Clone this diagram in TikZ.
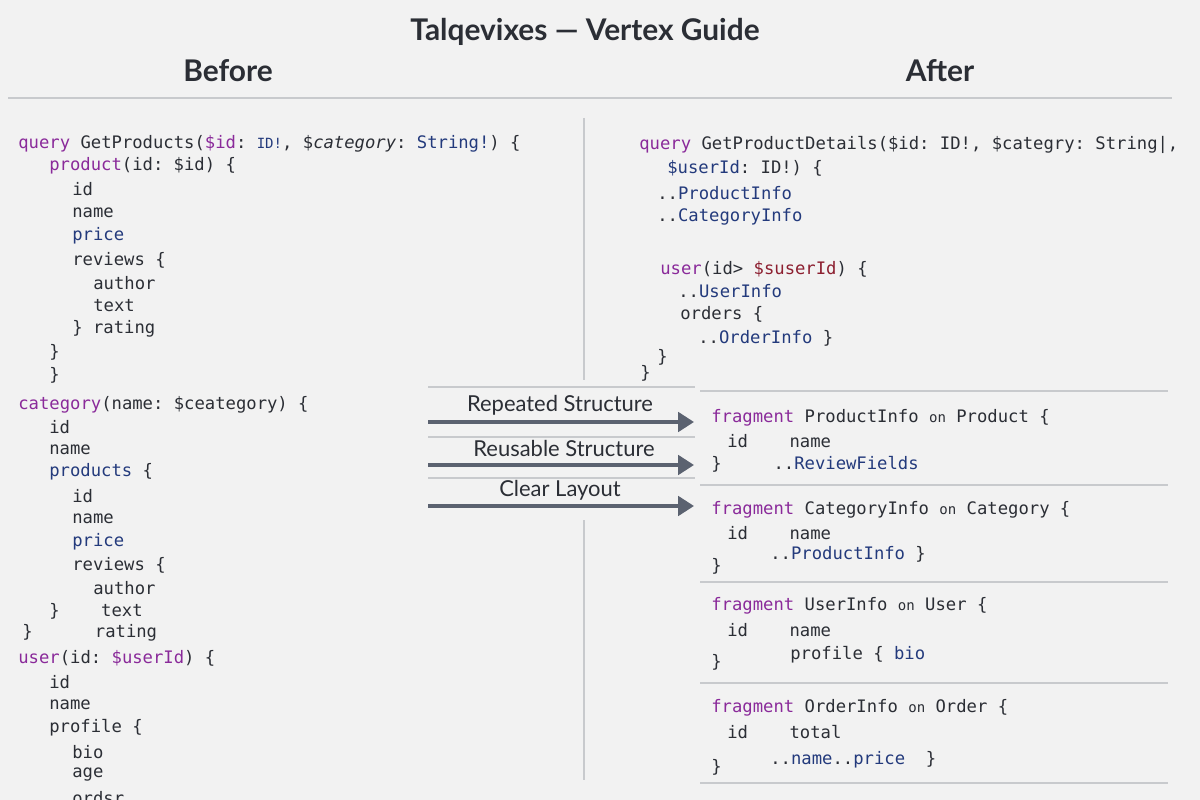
\documentclass[tikz,border=0pt]{standalone}
\usepackage{fontspec}
\setmainfont{Lato}
\setmonofont{DejaVu Sans Mono}
\usetikzlibrary{arrows.meta,positioning}
\definecolor{bg}{HTML}{F2F2F2}
\definecolor{kwcol}{HTML}{8A2A9A}
\definecolor{fncol}{HTML}{233A7C}
\definecolor{vrcol}{HTML}{8C1F30}
\definecolor{txtcol}{HTML}{2B2E35}
\definecolor{rulecol}{HTML}{C8CACD}
\definecolor{arrcol}{HTML}{5B6270}
\newcommand\kw[1]{\textcolor{kwcol}{#1}}
\newcommand\fn[1]{\textcolor{fncol}{#1}}
\newcommand\vr[1]{\textcolor{vrcol}{#1}}
\newcommand\sm[1]{{\fontsize{8}{8}\selectfont #1}}
\tikzset
{
  code/.style    = {anchor=west, inner sep=0pt, text=txtcol, font=\ttfamily\fontsize{9.8}{11}\selectfont},
  heading/.style = {text=txtcol, font=\fontsize{17}{20}\selectfont\bfseries},
  divider/.style = {draw=rulecol, line width=0.8pt},
  flow/.style    = {-{Triangle[length=9pt,width=11pt]}, draw=arrcol, line width=2pt},
  flowlabel/.style = {text=txtcol, font=\fontsize{12.5}{14}\selectfont}
}
\newcommand\cl[4]{\node[code] (#1) at (#2,#3) {#4};}
\begin{document}
\begin{tikzpicture}[x=0.02cm,y=-0.02cm]
  \fill[bg] (0,0) rectangle (1200,800);
  \useasboundingbox (0,0) rectangle (1200,800);
  % titles
  \node[text=txtcol, font=\fontsize{17}{20}\selectfont\bfseries] (title) at (585,32) {Talqevixes — Vertex Guide};
  \node[heading] (before) at (228,71) {Before};
  \node[heading] (after) at (940,71) {After};
  % rules
  \coordinate (tl) at (8,98);     \coordinate (tr) at (1172,98);
  \coordinate (vt) at (584,118);  \coordinate (vb) at (584,380);
  \coordinate (wt) at (584,520);  \coordinate (wb) at (584,780);
  \draw[divider] (tl) -- (tr);
  \draw[divider] (vt) -- (vb);
  \draw[divider] (wt) -- (wb);
  \foreach \y in {391,485,582,683,783}
    \draw[divider] (700,\y) -- (1168,\y);
  \foreach \y in {387,437,478}
    \draw[divider] (428,\y) -- (695,\y);
  % before
  \cl{b1}{18}{144}{\kw{query} GetProducts(\kw{\$id}: \fn{\sm{ID!}}, \$\textit{category}: \fn{String!}) \{}
  \cl{b2}{49}{166}{\kw{product}(id: \$id) \{}
  \cl{b3}{72}{189}{id}
  \cl{b4}{72}{213}{name}
  \cl{b5}{72}{236}{\fn{price}}
  \cl{b6}{72}{260}{reviews \{}
  \cl{b7}{93}{283}{author}
  \cl{b8}{93}{306}{text}
  \cl{b9}{72}{329}{\} rating}
  \cl{b10}{49}{352}{\}}
  \cl{b11}{49}{375}{\}}
  \cl{b12}{18}{405}{\kw{category}(name: \$ceategory) \{}
  \cl{b13}{49}{427}{id}
  \cl{b14}{49}{450}{name}
  \cl{b15}{49}{472}{\fn{products} \{}
  \cl{b16}{72}{496}{id}
  \cl{b17}{72}{519}{name}
  \cl{b18}{72}{542}{\fn{price}}
  \cl{b19}{72}{565}{reviews \{}
  \cl{b20}{93}{588}{author}
  \cl{b21}{49}{611}{\}\ \ \ \ text}
  \cl{b22}{22}{633}{\}\ \ \ \ \ \ rating}
  \cl{b23}{18}{658}{\kw{user}(id: \kw{\$userId}) \{}
  \cl{b24}{49}{682}{id}
  \cl{b25}{49}{705}{name}
  \cl{b26}{49}{728}{profile \{}
  \cl{b27}{72}{752}{bio}
  \cl{b28}{72}{775}{age}
  \cl{b29}{72}{798}{ordsr}
  % after
  \cl{a1}{639}{145}{\kw{query} GetProductDetails(\$id: ID!, \$categry: String|,}
  \cl{a2}{667}{168}{\fn{\$userId}: ID!) \{}
  \cl{a3}{657}{193}{..\fn{ProductInfo}}
  \cl{a4}{657}{217}{..\fn{CategoryInfo}}
  \cl{a5}{660}{269}{\kw{user}(id> \vr{\$suserId}) \{}
  \cl{a6}{678}{291}{..\fn{UserInfo}}
  \cl{a7}{680}{314}{orders \{}
  \cl{a8}{698}{338}{..\fn{OrderInfo} \}}
  \cl{a9}{657}{357}{\}}
  \cl{a10}{640}{373}{\}}
  % fragments
  \cl{f1}{711}{418}{\kw{fragment} ProductInfo \sm{on} Product \{}
  \cl{f2}{727}{441}{id\ \ \ \ name}
  \cl{f3}{711}{464}{\}\ \ \ \ \ ..\fn{ReviewFields}}
  \cl{f4}{711}{510}{\kw{fragment} CategoryInfo \sm{on} Category \{}
  \cl{f5}{727}{533}{id\ \ \ \ name}
  \cl{f6}{770}{554}{..\fn{ProductInfo} \}}
  \cl{f7}{711}{566}{\}}
  \cl{f8}{711}{606}{\kw{fragment} UserInfo \sm{on} User \{}
  \cl{f9}{727}{630}{id\ \ \ \ name}
  \cl{f10}{790}{655}{profile \{ \fn{bio}}
  \cl{f11}{711}{662}{\}}
  \cl{f12}{711}{708}{\kw{fragment} OrderInfo \sm{on} Order \{}
  \cl{f13}{727}{732}{id\ \ \ \ total}
  \cl{f14}{770}{760}{..\fn{name}..\fn{price}\ \ \}}
  \cl{f15}{711}{767}{\}}
  % arrows
  \node[flowlabel] (rep) at (560,405) {Repeated Structure};
  \node[flowlabel] (reu) at (564,448) {Reusable Structure};
  \node[flowlabel] (clr) at (560,490) {Clear Layout};
  \coordinate (s1) at (428,422); \coordinate (e1) at (694,422);
  \coordinate (s2) at (428,465); \coordinate (e2) at (694,465);
  \coordinate (s3) at (428,506); \coordinate (e3) at (694,506);
  \draw[flow] (s1) -- (e1);
  \draw[flow] (s2) -- (e2);
  \draw[flow] (s3) -- (e3);
\end{tikzpicture}
\end{document}
